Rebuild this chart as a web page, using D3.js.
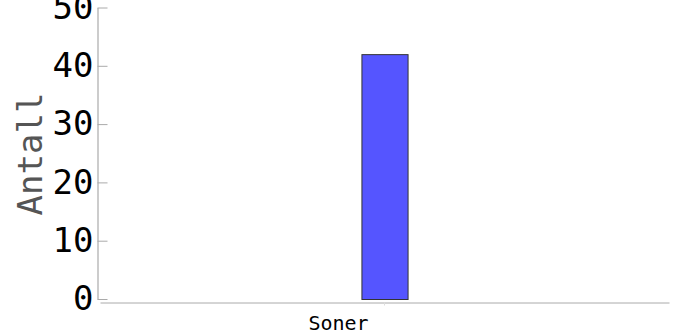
<!DOCTYPE html>
<html>
<head>
<meta charset="utf-8">
<script src="https://cdn.jsdelivr.net/npm/d3@7"></script>
<style>
  body { margin: 0; background: #fff; }
  svg { display: block; }
  text { font-family: "DejaVu Sans Mono", monospace; }
</style>
</head>
<body>
<svg id="chart" width="680" height="331"></svg>
<script>
  var categories = ['Soner'];
  var values = [42];
  var yTicks = [0, 10, 20, 30, 40, 50];
  var yTitle = 'Antall';

  var svg = d3.select('#chart');

  // scales
  var x = d3.scaleBand()
      .domain(categories)
      .range([100, 669])
      .padding(0.85);

  var y = d3.scaleLinear()
      .domain([0, 50])
      .range([299, 7.5]);

  // y axis, ticks pointing into the plot
  var yAxis = d3.axisLeft(y)
      .tickValues(yTicks)
      .tickSizeInner(-10)
      .tickSizeOuter(0)
      .tickPadding(4);

  var yG = svg.append('g')
      .attr('transform', 'translate(97.5,0)')
      .call(yAxis);
  yG.select('.domain').attr('stroke', '#999');
  yG.selectAll('.tick line').attr('stroke', '#aaa');
  yG.selectAll('.tick text')
      .attr('fill', '#000')
      .style('font-size', '34px')
      .style('font-family', '"DejaVu Sans Mono", monospace');

  // x axis
  var xAxis = d3.axisBottom(x)
      .tickSizeInner(3)
      .tickSizeOuter(0)
      .tickPadding(10);

  var xG = svg.append('g')
      .attr('transform', 'translate(0,302.5)')
      .call(xAxis);
  xG.select('.domain').attr('stroke', '#aaa');
  xG.selectAll('.tick line').attr('stroke', '#ddd');
  // the label sits left of the bar centre in the original
  xG.selectAll('.tick text')
      .attr('fill', '#000')
      .attr('dx', -46)
      .style('font-size', '20px')
      .style('font-family', '"DejaVu Sans Mono", monospace');

  // bars
  svg.append('g')
      .selectAll('rect')
      .data(values)
      .enter().append('rect')
        .attr('x', function (d, i) { return x(categories[i]) + 0.5; })
        .attr('y', function (d) { return y(d) + 0.5; })
        .attr('width', x.bandwidth())
        .attr('height', function (d) { return y(0) - y(d); })
        .attr('fill', '#5555ff')
        .attr('stroke', '#333')
        .attr('stroke-width', 1);

  // y title
  svg.append('text')
      .attr('transform', 'translate(42,154) rotate(-90)')
      .attr('text-anchor', 'middle')
      .attr('fill', '#555')
      .style('font-size', '34px')
      .text(yTitle);
</script>
</body>
</html>
